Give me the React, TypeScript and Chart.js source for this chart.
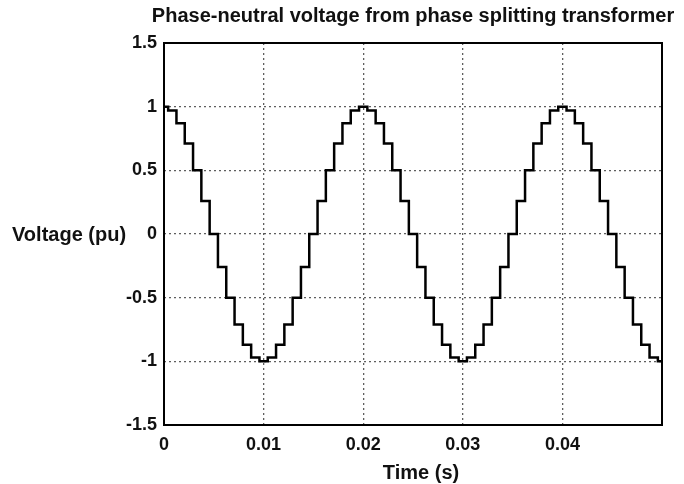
import React, { useEffect, useRef } from "react";
import { Chart, registerables } from "chart.js";

Chart.register(...registerables);

const chartTitle = "Phase-neutral voltage from phase splitting transformer";
const xAxisTitle = "Time (s)";
const yAxisTitle = "Voltage (pu)";

const timeS = [
  0, 0.000833, 0.001667, 0.0025, 0.003333, 0.004167, 0.005, 0.005833, 0.006667, 0.0075,
  0.008333, 0.009167, 0.01, 0.010833, 0.011667, 0.0125, 0.013333, 0.014167, 0.015, 0.015833,
  0.016667, 0.0175, 0.018333, 0.019167, 0.02, 0.020833, 0.021667, 0.0225, 0.023333, 0.024167,
  0.025, 0.025833, 0.026667, 0.0275, 0.028333, 0.029167, 0.03, 0.030833, 0.031667, 0.0325,
  0.033333, 0.034167, 0.035, 0.035833, 0.036667, 0.0375, 0.038333, 0.039167, 0.04, 0.040833,
  0.041667, 0.0425, 0.043333, 0.044167, 0.045, 0.045833, 0.046667, 0.0475, 0.048333, 0.049167,
  0.05,
];

const voltagePu = [
  1, 0.97, 0.87, 0.71, 0.5, 0.26, 0, -0.26, -0.5, -0.71,
  -0.87, -0.97, -1, -0.97, -0.87, -0.71, -0.5, -0.26, 0, 0.26,
  0.5, 0.71, 0.87, 0.97, 1, 0.97, 0.87, 0.71, 0.5, 0.26,
  0, -0.26, -0.5, -0.71, -0.87, -0.97, -1, -0.97, -0.87, -0.71,
  -0.5, -0.26, 0, 0.26, 0.5, 0.71, 0.87, 0.97, 1, 0.97,
  0.87, 0.71, 0.5, 0.26, 0, -0.26, -0.5, -0.71, -0.87, -0.97,
  -1,
];

const xTickValues = [0, 0.01, 0.02, 0.03, 0.04, 0.05];
const xTickLabels = ["0", "0.01", "0.02", "0.03", "0.04", ""];
const yTickValues = [-1.5, -1, -0.5, 0, 0.5, 1, 1.5];
const yTickLabels = ["-1.5", "-1", "-0.5", "0", "0.5", "1", "1.5"];

const FONT = '"Liberation Sans", Arial, Helvetica, sans-serif';

const textPlugin = {
  id: "matlabText",
  afterDraw(chart: any) {
    const { ctx, chartArea } = chart;
    ctx.save();
    ctx.strokeStyle = "#000";
    ctx.lineWidth = 2;
    ctx.strokeRect(chartArea.left, chartArea.top, chartArea.right - chartArea.left, chartArea.bottom - chartArea.top);
    ctx.fillStyle = "#111";
    ctx.font = `bold 20px ${FONT}`;
    ctx.textBaseline = "middle";
    ctx.textAlign = "center";
    ctx.fillText(chartTitle, (chartArea.left + chartArea.right) / 2, 16);
    ctx.fillText(xAxisTitle, (chartArea.left + chartArea.right) / 2 + 8, 473);
    ctx.textAlign = "left";
    const yMid = chart.scales.y.getPixelForValue(0);
    ctx.fillText(yAxisTitle, 12, yMid + 1);
    ctx.restore();
  },
};

export default function App() {
  const ref = useRef<HTMLCanvasElement | null>(null);
  useEffect(() => {
    if (!ref.current) return;
    const points = timeS.map((t, i) => ({ x: t, y: voltagePu[i] }));
    const gridColor = "rgba(40,40,40,0.75)";
    const chart = new Chart(ref.current, {
      type: "line",
      data: {
        datasets: [
          {
            data: points,
            borderColor: "#000",
            borderWidth: 2.5,
            pointRadius: 0,
            stepped: "middle",
            fill: false,
          },
        ],
      },
      options: {
        animation: false,
        responsive: false,
        maintainAspectRatio: false,
        layout: { padding: { left: 0, top: 43, right: 22, bottom: 0 } },
        plugins: { legend: { display: false }, tooltip: { enabled: false }, title: { display: false } },
        scales: {
          x: {
            type: "linear",
            min: 0,
            max: 0.05,
            afterBuildTicks: (scale: any) => {
              scale.ticks = xTickValues.map((v) => ({ value: v }));
            },
            afterFit: (scale: any) => {
              scale.height = 59;
            },
            ticks: {
              autoSkip: false,
              maxRotation: 0,
              padding: 9,
              color: "#111",
              font: { family: FONT, size: 18, weight: "bold" },
              callback: (v: any) => {
                const i = xTickValues.findIndex((t) => Math.abs(t - Number(v)) < 1e-9);
                return i >= 0 ? xTickLabels[i] : "";
              },
            },
            grid: { color: gridColor, lineWidth: 1.3, drawTicks: false },
            border: { display: false, dash: [2, 3] },
          },
          y: {
            type: "linear",
            min: -1.5,
            max: 1.5,
            afterBuildTicks: (scale: any) => {
              scale.ticks = yTickValues.map((v) => ({ value: v }));
            },
            afterFit: (scale: any) => {
              scale.width = 164;
            },
            ticks: {
              autoSkip: false,
              padding: 7,
              color: "#111",
              font: { family: FONT, size: 18, weight: "bold" },
              callback: (v: any) => {
                const i = yTickValues.findIndex((t) => Math.abs(t - Number(v)) < 1e-9);
                return i >= 0 ? yTickLabels[i] : "";
              },
            },
            grid: { color: gridColor, lineWidth: 1.3, drawTicks: false },
            border: { display: false, dash: [2, 3] },
          },
        },
      },
      plugins: [textPlugin],
    });
    return () => chart.destroy();
  }, []);
  return (
    <div style={{ position: "absolute", left: 0, top: 0, width: 684, height: 484, background: "#fff" }}>
      <canvas ref={ref} width={684} height={484} style={{ display: "block", width: 684, height: 484 }} />
    </div>
  );
}
